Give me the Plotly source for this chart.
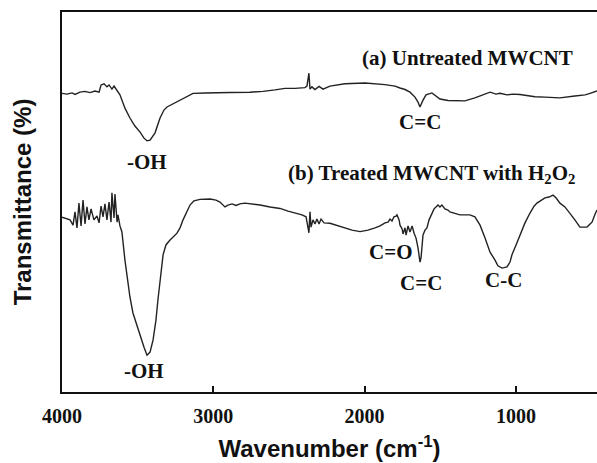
import plotly.graph_objects as go

# ---- data (wavenumber cm^-1, transmittance arbitrary %) ----
wn_a = [4000, 3967, 3934, 3914, 3881, 3848, 3815, 3782, 3755, 3742, 3722, 3703, 3689, 3670,
        3656, 3636, 3617, 3584, 3551, 3518, 3484, 3458, 3438, 3418, 3385, 3352, 3326, 3306,
        3273, 3233, 3187, 3134, 3055, 2989, 2890, 2758, 2672, 2592, 2526, 2460, 2394, 2381,
        2368, 2361, 2348, 2328, 2301, 2275, 2229, 2130, 1997, 1865, 1799, 1766, 1733, 1700,
        1667, 1647, 1634, 1614, 1594, 1555, 1528, 1502, 1449, 1403, 1337, 1271, 1218, 1171,
        1132, 1105, 1059, 1019, 973, 920, 874, 808, 709, 610, 543, 510, 464]
t_a = [78.6, 78.4, 78.7, 78.3, 78.9, 79.1, 78.8, 79.2, 78.9, 80.8, 81.1, 80.3, 80.8, 79.7,
       80.5, 79.2, 78.2, 74.7, 72.1, 70.0, 68.4, 66.8, 66.1, 66.3, 68.2, 72.1, 74.2, 75.0,
       75.7, 76.6, 77.5, 78.6, 78.7, 78.7, 78.8, 78.9, 79.1, 79.5, 79.9, 79.9, 80.1, 80.5,
       83.9, 79.7, 80.3, 79.6, 80.4, 79.7, 80.5, 81.1, 81.3, 80.9, 80.5, 80.0, 79.6, 78.9,
       77.6, 76.3, 75.0, 76.8, 78.2, 78.7, 77.9, 77.1, 76.7, 76.6, 76.6, 77.4, 78.2, 78.9,
       78.4, 78.6, 78.2, 78.4, 78.3, 77.9, 77.7, 77.6, 77.4, 77.9, 78.2, 78.6, 79.2]

wn_b = [4000, 3967, 3947, 3927, 3914, 3901, 3888, 3874, 3861, 3848, 3835, 3822, 3808, 3789,
        3769, 3755, 3742, 3729, 3716, 3703, 3689, 3676, 3670, 3656, 3650, 3636, 3630, 3617,
        3604, 3584, 3564, 3551, 3531, 3505, 3484, 3458, 3438, 3418, 3398, 3379, 3366, 3346,
        3332, 3313, 3286, 3240, 3220, 3200, 3174, 3154, 3128, 3088, 3022, 2982, 2956, 2923,
        2903, 2876, 2850, 2824, 2791, 2744, 2691, 2625, 2559, 2506, 2460, 2414, 2387, 2374,
        2368, 2361, 2354, 2341, 2328, 2315, 2301, 2288, 2268, 2229, 2176, 2130, 2083, 2030,
        1978, 1931, 1898, 1865, 1845, 1832, 1819, 1806, 1792, 1786, 1772, 1766, 1752, 1746,
        1733, 1726, 1713, 1700, 1686, 1673, 1660, 1647, 1634, 1627, 1614, 1601, 1588, 1574,
        1561, 1555, 1541, 1528, 1515, 1502, 1489, 1469, 1449, 1436, 1403, 1370, 1330, 1304,
        1271, 1237, 1204, 1171, 1138, 1119, 1092, 1059, 1039, 1026, 999, 973, 940, 907,
        880, 861, 834, 808, 781, 755, 735, 709, 676, 643, 610, 577, 550, 530, 510, 497,
        477, 464]
t_b = [46.0, 45.5, 45.3, 43.9, 47.4, 43.2, 49.7, 43.7, 50.5, 44.2, 48.7, 45.3, 48.2, 45.3,
       46.3, 44.5, 48.9, 46.1, 49.5, 45.3, 50.0, 44.7, 52.4, 45.8, 52.1, 44.7, 46.6, 43.7,
       42.1, 34.7, 28.7, 25.0, 20.8, 17.4, 15.0, 11.8, 9.7, 10.5, 13.7, 18.9, 24.2, 31.6,
       36.1, 38.7, 40.0, 41.8, 43.2, 45.3, 47.6, 49.2, 50.3, 50.7, 50.8, 50.5, 50.0, 48.7,
       49.2, 49.5, 49.1, 49.5, 49.7, 49.5, 49.2, 48.7, 48.3, 47.6, 47.1, 46.6, 46.1, 43.7,
       41.9, 47.4, 43.4, 45.3, 44.2, 45.5, 44.2, 45.5, 44.5, 44.4, 43.7, 43.2, 42.6, 42.2,
       42.6, 43.2, 43.7, 44.5, 44.7, 45.5, 45.0, 46.1, 46.3, 46.6, 45.3, 43.9, 42.9, 41.6,
       43.2, 41.3, 43.7, 42.1, 43.7, 41.8, 40.5, 37.9, 34.2, 35.3, 41.3, 42.6, 43.2, 45.3,
       46.6, 47.1, 48.2, 48.7, 49.2, 48.7, 49.2, 48.2, 47.9, 47.4, 47.1, 46.6, 46.6, 46.6,
       46.1, 43.9, 40.5, 36.8, 34.7, 33.2, 32.6, 32.9, 34.2, 36.1, 38.7, 41.3, 44.5, 47.1,
       48.9, 49.7, 50.3, 51.1, 51.3, 51.8, 51.1, 49.7, 48.7, 47.1, 45.3, 43.4, 43.4, 43.4, 44.2, 44.7,
       46.8, 47.9]

tick_vals = [4000, 3000, 2000, 1000]
tick_text = ["4000", "3000", "2000", "1000"]

labels = ["<b>(a) Untreated MWCNT</b>", "<b>-OH</b>", "<b>C=C</b>",
          "<b>(b) Treated MWCNT with H<sub>2</sub>O<sub>2</sub></b>",
          "<b>-OH</b>", "<b>C=O</b>", "<b>C=C</b>", "<b>C-C</b>"]
label_x = [1317, 3438, 1634, 1558, 3455, 1826, 1627, 1085]
label_y = [87.9, 60.6, 71.1, 57.4, 5.6, 36.9, 28.8, 29.5]

LINE = "#222222"
SERIF = "Liberation Serif"
SANS = "Liberation Sans"

fig = go.Figure()
fig.add_trace(go.Scatter(x=wn_a, y=t_a, mode="lines",
                         line=dict(color=LINE, width=1.4), showlegend=False))
fig.add_trace(go.Scatter(x=wn_b, y=t_b, mode="lines",
                         line=dict(color=LINE, width=1.4), showlegend=False))

for txt, x, y in zip(labels, label_x, label_y):
    fig.add_annotation(x=x, y=y, xref="x", yref="y", text=txt, showarrow=False,
                       xanchor="center", yanchor="middle",
                       font=dict(family=SERIF, size=21, color="#111111"))

fig.update_layout(
    width=597, height=463,
    margin=dict(l=62, r=0, t=12, b=71),
    paper_bgcolor="white", plot_bgcolor="white",
    showlegend=False,
)
fig.update_xaxes(
    range=[4000, 464], autorange=False,
    showline=True, linecolor="#111111", linewidth=2, mirror=True,
    showgrid=False, zeroline=False,
    ticks="inside", ticklen=6, tickwidth=2, tickcolor="#111111",
    tickvals=tick_vals, ticktext=tick_text,
    ticklabelstandoff=5,
    tickfont=dict(family=SERIF, size=20, color="#111111", weight="bold"),
    title=dict(text="Wavenumber (cm<sup>-1</sup>)", standoff=14,
               font=dict(family=SANS, size=24, color="#111111", weight="bold")),
)
fig.update_yaxes(
    range=[0, 100], autorange=False,
    showline=True, linecolor="#111111", linewidth=2, mirror=False,
    showgrid=False, zeroline=False, showticklabels=False, ticks="",
    title=dict(text="Transmittance (%)", standoff=22,
               font=dict(family=SANS, size=24, color="#111111", weight="bold")),
)

fig.write_html("out.html")
